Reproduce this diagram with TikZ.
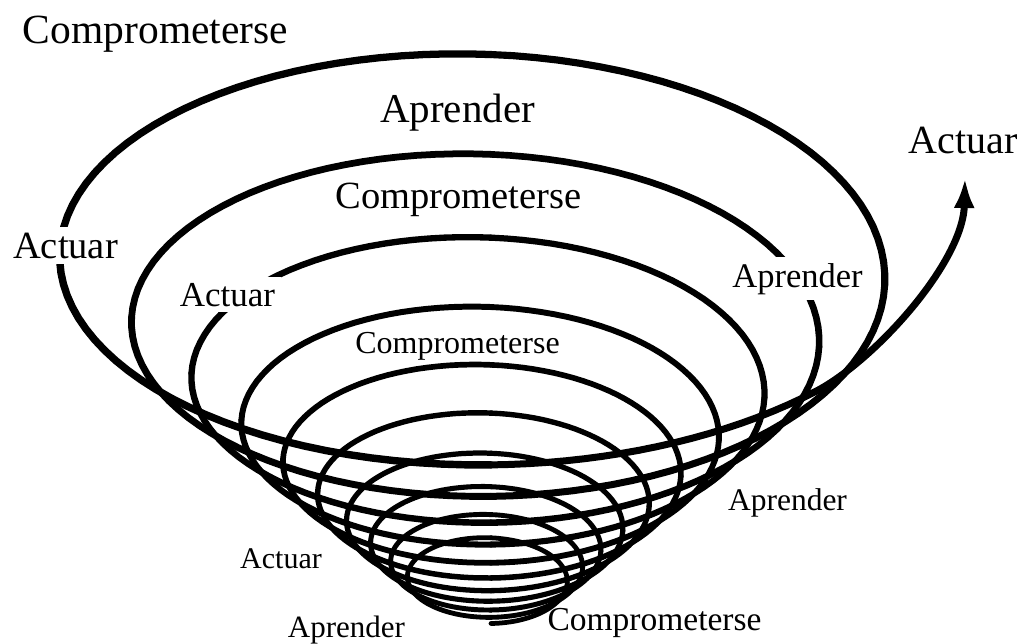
\documentclass[tikz,border=0pt]{standalone}
\usepackage{fontspec}
\setmainfont{Liberation Serif}
\usetikzlibrary{arrows.meta}
\newcommand{\lblfont}[1]{\fontsize{#1pt}{#1pt}\selectfont}
\begin{document}
\begin{tikzpicture}[x=1pt,y=-1pt,
  declare function={ra(\t)=412*exp(0.18232*(\t-90)/360);
                    sx(\t)=491+ra(\t)*cos(\t);
                    sy(\t)=654-0.937*ra(\t)-0.518*ra(\t)*sin(\t);},
  lbl/.style={anchor=base, inner sep=0pt, text=black},
  gaplbl/.style={lbl, fill=white, inner sep=6pt},
  coil/.style={line cap=round, line join=round, draw=black}]
\useasboundingbox (0,0) rectangle (1023,643);
\foreach \k in {0,...,39} {
  \pgfmathsetmacro{\ta}{-3330+\k*90}
  \pgfmathsetmacro{\tb}{\ta+90}
  \pgfmathsetmacro{\lw}{4.2+3.0*ra(\ta+45)/412}
  \draw[coil, line width=\lw pt] plot[domain=\ta:\tb, samples=30] ({sx(\x)},{sy(\x)});
}
\coordinate (tip) at (965,178);
\draw[coil, line width=7pt, -{Latex[length=30pt,width=21pt]}]
  plot[domain=270:315, samples=20] ({sx(\x)},{sy(\x)}) .. controls (876,359) and (963,262) .. (tip);
\node[lbl] (c1) at (155.5,43) {\lblfont{41.5}Comprometerse};
\node[lbl] (p1) at (457.5,122) {\lblfont{41}Aprender};
\node[lbl] (a0) at (963,153) {\lblfont{40}Actuar};
\node[lbl] (c2) at (458.5,208) {\lblfont{38.5}Comprometerse};
\node[gaplbl] (a1) at (65.5,258) {\lblfont{38.5}Actuar};
\node[gaplbl] (a2) at (227.5,306) {\lblfont{35}Actuar};
\node[gaplbl] (p2) at (797.5,287) {\lblfont{34.5}Aprender};
\node[lbl] (c3) at (457.5,353) {\lblfont{32}Comprometerse};
\node[lbl] (p3) at (787.5,510) {\lblfont{31.5}Aprender};
\node[lbl] (a3) at (281,568) {\lblfont{30}Actuar};
\node[lbl] (p4) at (346.5,637) {\lblfont{31}Aprender};
\node[lbl] (c4) at (654.5,630) {\lblfont{33.5}Comprometerse};
\end{tikzpicture}
\end{document}
